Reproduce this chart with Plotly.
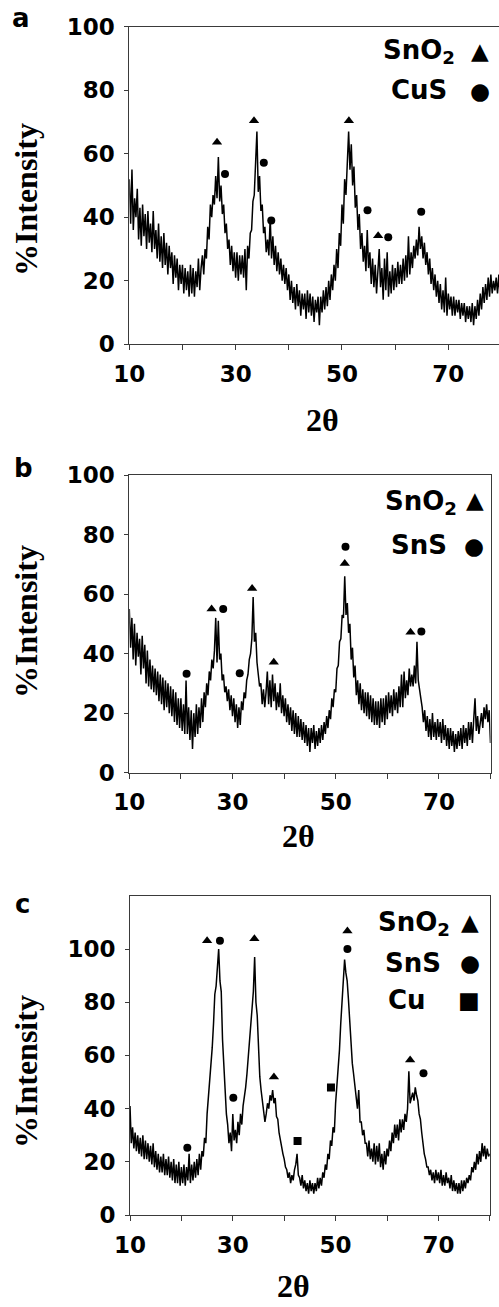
import numpy as np
import plotly.graph_objects as go

# 2-theta scan grid (degrees), 0.25 deg step
two_theta = np.arange(10, 80.001, 0.25)

# Panel a intensities
intensity_a = [
    52, 38, 55, 36, 46, 40, 49, 33, 43, 31, 44, 34, 41, 30, 42, 32, 38, 29, 42, 30,
    36, 27, 38, 26, 34, 24, 35, 25, 32, 22, 31, 24, 29, 19, 28, 21, 27, 17, 25, 19,
    25, 16, 24, 17, 23, 15, 25, 16, 24, 15, 23, 18, 27, 17, 24, 28, 22, 30, 27, 37,
    33, 44, 40, 47, 44, 53, 46, 59, 45, 50, 41, 44, 35, 38, 30, 33, 25, 31, 23, 29,
    21, 29, 20, 28, 22, 28, 21, 30, 17, 31, 27, 35, 36, 45, 47, 56, 67, 48, 53, 42,
    44, 35, 37, 29, 33, 28, 40, 27, 34, 25, 31, 23, 29, 22, 27, 20, 25, 19, 24, 17,
    22, 14, 20, 13, 18, 11, 19, 12, 17, 9, 16, 11, 16, 8, 17, 10, 16, 9, 15, 7,
    14, 10, 15, 6, 15, 10, 17, 11, 18, 12, 20, 14, 22, 17, 25, 20, 30, 24, 35, 31,
    44, 38, 52, 47, 60, 67, 55, 63, 50, 56, 43, 47, 36, 41, 30, 35, 26, 31, 23, 36,
    24, 29, 19, 27, 18, 25, 16, 24, 30, 18, 24, 14, 27, 17, 29, 15, 23, 16, 25, 17,
    24, 18, 26, 19, 25, 19, 27, 20, 28, 21, 34, 22, 29, 24, 31, 27, 33, 28, 37, 30,
    34, 27, 32, 25, 29, 22, 27, 19, 24, 17, 22, 15, 20, 13, 19, 11, 17, 10, 21, 9,
    16, 11, 15, 9, 15, 9, 14, 10, 14, 8, 13, 9, 13, 7, 12, 8, 12, 7, 13, 6,
    12, 8, 14, 9, 16, 11, 18, 13, 19, 14, 21, 15, 22, 16, 20, 17, 21, 16, 22, 15,
    19,
]

# Panel b intensities
intensity_b = [
    55, 42, 52, 38, 50, 36, 47, 39, 45, 33, 46, 35, 43, 30, 41, 29, 38, 28, 36, 27,
    35, 26, 34, 24, 33, 23, 32, 21, 31, 22, 30, 20, 29, 19, 28, 17, 27, 16, 25, 15,
    25, 14, 23, 13, 31, 13, 22, 11, 21, 8, 20, 12, 23, 13, 22, 15, 25, 17, 27, 22,
    30, 26, 34, 31, 38, 35, 41, 52, 37, 51, 38, 40, 31, 33, 27, 29, 24, 28, 21, 26,
    19, 25, 17, 23, 15, 22, 16, 24, 21, 27, 25, 31, 33, 38, 40, 45, 59, 44, 47, 37,
    33, 29, 30, 23, 28, 22, 27, 34, 23, 31, 22, 33, 24, 30, 21, 27, 22, 30, 20, 26,
    19, 25, 17, 23, 16, 22, 14, 21, 13, 20, 12, 19, 12, 18, 11, 17, 10, 16, 9, 15,
    7, 15, 10, 16, 8, 14, 9, 15, 10, 16, 11, 17, 13, 19, 15, 21, 18, 25, 22, 28,
    27, 35, 36, 44, 45, 53, 52, 66, 53, 57, 47, 50, 38, 42, 32, 36, 26, 31, 23, 30,
    21, 28, 20, 27, 19, 27, 18, 26, 17, 25, 16, 24, 16, 24, 15, 25, 17, 25, 16, 26,
    18, 27, 20, 26, 19, 28, 21, 27, 20, 29, 22, 33, 22, 34, 25, 31, 26, 35, 29, 33,
    29, 36, 30, 44, 31, 27, 25, 22, 17, 21, 14, 19, 12, 18, 11, 20, 12, 17, 11, 18,
    12, 17, 10, 18, 11, 16, 9, 15, 8, 15, 9, 14, 7, 13, 8, 14, 9, 15, 8, 16,
    10, 15, 9, 17, 11, 17, 10, 18, 25, 14, 19, 13, 17, 20, 15, 22, 18, 23, 17, 21,
    10,
]

# Panel c intensities
intensity_c = [
    41, 27, 33, 25, 31, 24, 30, 23, 29, 22, 30, 21, 28, 21, 27, 20, 26, 19, 27, 18,
    24, 17, 23, 16, 22, 16, 23, 15, 21, 15, 22, 14, 20, 13, 21, 12, 19, 12, 20, 11,
    18, 12, 19, 11, 18, 13, 23, 12, 19, 13, 20, 14, 21, 15, 23, 17, 24, 22, 29, 27,
    38, 44, 51, 57, 63, 72, 83, 86, 92, 100, 88, 84, 66, 55, 44, 38, 34, 27, 31, 24,
    38, 28, 32, 27, 35, 30, 38, 34, 41, 44, 48, 53, 60, 66, 73, 78, 84, 97, 80, 75,
    60, 52, 47, 43, 41, 35, 38, 42, 40, 45, 43, 47, 42, 44, 37, 36, 31, 28, 26, 23,
    21, 18, 17, 14, 16, 12, 15, 13, 17, 19, 23, 15, 14, 11, 15, 10, 13, 9, 12, 8,
    13, 9, 12, 8, 12, 9, 14, 10, 14, 11, 16, 14, 19, 17, 23, 21, 28, 26, 33, 31,
    42, 48, 55, 62, 72, 79, 87, 96, 91, 88, 81, 73, 63, 57, 53, 48, 45, 40, 47, 35,
    35, 30, 32, 27, 27, 22, 28, 21, 25, 20, 27, 19, 26, 20, 27, 18, 23, 17, 24, 19,
    25, 22, 28, 24, 31, 27, 34, 29, 34, 28, 36, 31, 36, 32, 38, 35, 40, 54, 42, 44,
    46, 43, 48, 45, 43, 38, 36, 31, 26, 23, 21, 18, 18, 15, 17, 13, 16, 12, 17, 13,
    16, 12, 17, 11, 15, 11, 16, 12, 14, 10, 15, 9, 13, 9, 12, 8, 12, 8, 13, 9,
    13, 10, 14, 12, 15, 13, 18, 16, 20, 17, 23, 19, 24, 20, 27, 22, 26, 21, 25, 22,
    23,
]

# Phase markers above peaks
a_sno2_x = [26.5, 33.45, 51.3, 56.8]
a_sno2_y = [63.6, 70.4, 70.4, 34.2]
a_cus_x = [28.0, 35.3, 36.7, 54.8, 58.7, 64.9]
a_cus_y = [53.6, 57.2, 39.0, 42.2, 33.7, 41.7]

b_sno2_x = [25.95, 33.8, 38.0, 51.75, 64.5]
b_sno2_y = [55.0, 61.9, 37.1, 70.3, 47.2]
b_sns_x = [21.1, 28.2, 31.4, 51.9, 66.6]
b_sns_y = [33.2, 55.0, 33.4, 75.9, 47.4]

c_sno2_x = [25.0, 34.2, 38.0, 52.3, 64.5]
c_sno2_y = [103.1, 103.9, 51.9, 106.8, 58.3]
c_sns_x = [21.15, 27.5, 30.1, 52.3, 67.1]
c_sns_y = [25.3, 103.1, 44.1, 100.0, 53.3]
c_cu_x = [42.6, 49.1]
c_cu_y = [27.8, 47.9]

x_label_ticks = [10, 30, 50, 70]
x_minor_ticks = [20, 40, 60, 80]
y_ticks = [0, 20, 40, 60, 80, 100]

W, H = 499, 1307


def px(x):
    return x / W


def py(y):
    return 1 - y / H


fig = go.Figure()

panels = [
    dict(n="", data=intensity_a, xr=[10, 79.53], xd=[px(129.3), 1.0], yd=[py(344.3), py(26.7)], yr=[0, 100],
         marks=[(a_sno2_x, a_sno2_y, "triangle-up"), (a_cus_x, a_cus_y, "circle")], ymirror=False),
    dict(n="2", data=intensity_b, xr=[10, 80], xd=[px(129.3), px(490.5)], yd=[py(772.7), py(475)], yr=[0, 100],
         marks=[(b_sno2_x, b_sno2_y, "triangle-up"), (b_sns_x, b_sns_y, "circle")], ymirror=True),
    dict(n="3", data=intensity_c, xr=[10, 80], xd=[px(130), px(489.8)], yd=[py(1215), py(895.8)], yr=[0, 120],
         marks=[(c_sno2_x, c_sno2_y, "triangle-up"), (c_sns_x, c_sns_y, "circle"), (c_cu_x, c_cu_y, "square")],
         ymirror=True),
]

tick_font = dict(family="DejaVu Sans", size=23, color="black", weight="bold")
frame = "#3a3a3a"
marker_sizes = {"triangle-up": 9, "circle": 8, "square": 8}

for p in panels:
    xa = "x" + p["n"]
    ya = "y" + p["n"]
    fig.add_trace(go.Scatter(x=two_theta, y=p["data"], mode="lines",
                             line=dict(color="black", width=1.5),
                             xaxis=xa, yaxis=ya, showlegend=False, hoverinfo="skip"))
    for mx, my, sym in p["marks"]:
        fig.add_trace(go.Scatter(x=mx, y=my, mode="markers",
                                 marker=dict(symbol=sym, size=marker_sizes[sym], color="black"),
                                 xaxis=xa, yaxis=ya, showlegend=False, hoverinfo="skip"))
    xkey = "xaxis" + p["n"]
    ykey = "yaxis" + p["n"]
    fig.layout[xkey] = dict(domain=p["xd"], range=p["xr"], anchor=ya, automargin=False,
                            tickvals=x_label_ticks,
                            ticks="outside", ticklen=5, tickcolor=frame, tickwidth=1,
                            minor=dict(tickvals=x_minor_ticks, ticks="outside", ticklen=5,
                                       tickcolor=frame, tickwidth=1, showgrid=False),
                            showline=True, linecolor=frame, linewidth=1, mirror=True,
                            showgrid=False, zeroline=False, tickfont=tick_font,
                            ticklabelstandoff=4)
    fig.layout[ykey] = dict(domain=p["yd"], range=p["yr"], anchor=xa, automargin=False,
                            tickvals=y_ticks,
                            ticks="outside", ticklen=4, tickcolor=frame, tickwidth=1,
                            showline=True, linecolor=frame, linewidth=1, mirror=p["ymirror"],
                            showgrid=False, zeroline=False, tickfont=tick_font,
                            ticklabelstandoff=5)

ann = []
serif = dict(family="Liberation Serif", size=32, color="black", weight="bold")
sans_leg = dict(family="DejaVu Sans", size=26, color="black", weight="bold")
letter = dict(family="DejaVu Sans", size=26, color="black", weight="bold")
glyph = dict(family="DejaVu Sans", size=23, color="black")

# y-axis titles
for yc in [200, 622, 1072]:
    ann.append(dict(x=px(26), y=py(yc), text="%Intensity", textangle=-90, font=serif, showarrow=False,
                    xref="paper", yref="paper", xanchor="center", yanchor="middle"))
# x-axis titles
for xc, yc in [(322, 420), (298, 836)]:
    ann.append(dict(x=px(xc), y=py(yc), text="2θ", font=serif, showarrow=False,
                    xref="paper", yref="paper", xanchor="center", yanchor="middle"))
ann.append(dict(x=px(293), y=py(1306), text="2θ", font=serif, showarrow=False,
                xref="paper", yref="paper", xanchor="center", yanchor="bottom"))
# panel letters
for t, xc, yc in [("a", 21, 18), ("b", 23, 468), ("c", 22, 904)]:
    ann.append(dict(x=px(xc), y=py(yc), text=t, font=letter, showarrow=False,
                    xref="paper", yref="paper", xanchor="center", yanchor="middle"))

# legend texts and symbols
legend_items = [
    ("SnO<sub>2</sub>", 457, 52, "▲", 480, 51),
    ("CuS", 449, 90, "●", 480, 91),
    ("SnO<sub>2</sub>", 459, 502, "▲", 475, 500),
    ("SnS", 449, 545, "●", 474, 546),
    ("SnO<sub>2</sub>", 452, 923, "▲", 470, 922),
    ("SnS", 443, 963, "●", 470, 963),
    ("Cu", 428, 1000, "■", 469, 1000),
]
for txt, tx, ty, g, gx, gy in legend_items:
    ann.append(dict(x=px(tx), y=py(ty), text=txt, font=sans_leg, showarrow=False,
                    xref="paper", yref="paper", xanchor="right", yanchor="middle"))
    ann.append(dict(x=px(gx), y=py(gy), text=g, font=glyph, showarrow=False,
                    xref="paper", yref="paper", xanchor="center", yanchor="middle"))

fig.update_layout(width=W, height=H, margin=dict(l=0, r=0, t=0, b=0),
                  paper_bgcolor="white", plot_bgcolor="white",
                  annotations=ann, showlegend=False)

fig.write_html("out.html", config={"displayModeBar": False, "staticPlot": True},
               post_script="document.body.style.margin='0';document.body.style.overflow='hidden';")
